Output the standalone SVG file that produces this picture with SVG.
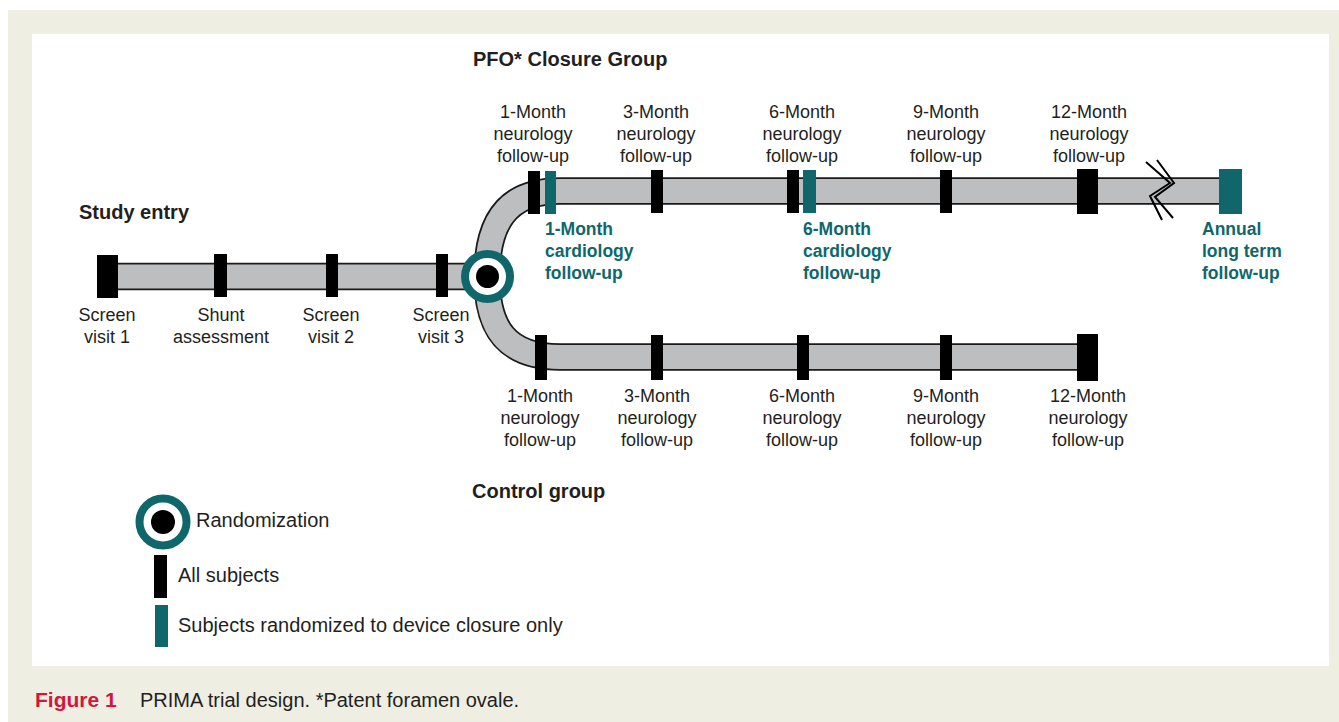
<svg xmlns="http://www.w3.org/2000/svg" width="1339" height="722" viewBox="0 0 1339 722">
<style>
.t{font-family:"Liberation Sans",Arial,sans-serif;fill:#231f20}
.lbl{font-size:18px;text-anchor:middle}
.hd{font-size:20px;font-weight:bold}
.cd{font-family:"Liberation Sans",Arial,sans-serif;font-size:17.5px;font-weight:bold;fill:#0f676b}
.lg{font-size:20px}
.blk{fill:#000}
.teal{fill:#0f676b}
.po{fill:none;stroke:#1a1a1a;stroke-width:27.5}
.pi{fill:none;stroke:#bdbec0;stroke-width:24}
.brk{fill:none;stroke:#000;stroke-width:2}
</style>
<rect x="8" y="10" width="1331" height="712" fill="#efeee3"/>
<rect x="32" y="34" width="1297" height="632" fill="#fff"/>

<g id="connectors">
  <path class="po" d="M108 276.5 L487 276.5"/>
  <path class="po" d="M487 276.5 C487 225 505 191 560 191 L1230 191"/>
  <path class="po" d="M487 276.5 C487 327 505 357 560 357 L1088 357"/>
  <path class="pi" d="M108 276.5 L487 276.5"/>
  <path class="pi" d="M487 276.5 C487 225 505 191 560 191 L1230 191"/>
  <path class="pi" d="M487 276.5 C487 327 505 357 560 357 L1088 357"/>
  <path class="brk" d="M1146 162 L1170 183 L1150 196 L1162 220"/>
  <path class="brk" d="M1157 160 L1174 183 L1155 197 L1173 218"/>
</g>

<g id="headings">
  <text class="t hd" x="79" y="219">Study entry</text>
  <text class="t hd" x="473" y="66">PFO* Closure Group</text>
  <text class="t hd" x="472" y="498">Control group</text>
</g>

<g id="screen-visit-1">
  <rect class="blk" x="97" y="255" width="21" height="43"/>
  <text class="t lbl" x="107" y="321">Screen</text>
  <text class="t lbl" x="107" y="343">visit 1</text>
</g>
<g id="shunt-assessment">
  <rect class="blk" x="214" y="254" width="13" height="43"/>
  <text class="t lbl" x="221" y="321">Shunt</text>
  <text class="t lbl" x="221" y="343">assessment</text>
</g>
<g id="screen-visit-2">
  <rect class="blk" x="326" y="254" width="12" height="43"/>
  <text class="t lbl" x="331" y="321">Screen</text>
  <text class="t lbl" x="331" y="343">visit 2</text>
</g>
<g id="screen-visit-3">
  <rect class="blk" x="436" y="254" width="12" height="43"/>
  <text class="t lbl" x="441" y="321">Screen</text>
  <text class="t lbl" x="441" y="343">visit 3</text>
</g>

<g id="randomization">
  <circle cx="487.5" cy="276.5" r="22.5" fill="#fff" stroke="#0f676b" stroke-width="8"/>
  <circle cx="487.5" cy="276.5" r="11.5" fill="#000"/>
</g>

<g id="pfo-1m-neuro">
  <rect class="blk" x="528" y="171" width="12" height="43"/>
  <text class="t lbl" x="533" y="118">1-Month</text>
  <text class="t lbl" x="533" y="140">neurology</text>
  <text class="t lbl" x="533" y="162">follow-up</text>
</g>
<g id="pfo-1m-cardio">
  <rect class="teal" x="545" y="171" width="11" height="43"/>
  <text class="cd" x="545" y="235">1-Month</text>
  <text class="cd" x="545" y="257">cardiology</text>
  <text class="cd" x="545" y="279">follow-up</text>
</g>
<g id="pfo-3m-neuro">
  <rect class="blk" x="651" y="170" width="12" height="43"/>
  <text class="t lbl" x="656" y="118">3-Month</text>
  <text class="t lbl" x="656" y="140">neurology</text>
  <text class="t lbl" x="656" y="162">follow-up</text>
</g>
<g id="pfo-6m-neuro">
  <rect class="blk" x="787" y="170" width="12" height="43"/>
  <text class="t lbl" x="802" y="118">6-Month</text>
  <text class="t lbl" x="802" y="140">neurology</text>
  <text class="t lbl" x="802" y="162">follow-up</text>
</g>
<g id="pfo-6m-cardio">
  <rect class="teal" x="803" y="170" width="13" height="43"/>
  <text class="cd" x="803" y="235">6-Month</text>
  <text class="cd" x="803" y="257">cardiology</text>
  <text class="cd" x="803" y="279">follow-up</text>
</g>
<g id="pfo-9m-neuro">
  <rect class="blk" x="940" y="170" width="12" height="43"/>
  <text class="t lbl" x="946" y="118">9-Month</text>
  <text class="t lbl" x="946" y="140">neurology</text>
  <text class="t lbl" x="946" y="162">follow-up</text>
</g>
<g id="pfo-12m-neuro">
  <rect class="blk" x="1077" y="169" width="21" height="45"/>
  <text class="t lbl" x="1089" y="118">12-Month</text>
  <text class="t lbl" x="1089" y="140">neurology</text>
  <text class="t lbl" x="1089" y="162">follow-up</text>
</g>
<g id="pfo-annual">
  <rect class="teal" x="1219" y="169" width="23" height="45"/>
  <text class="cd" x="1202" y="235">Annual</text>
  <text class="cd" x="1202" y="257">long term</text>
  <text class="cd" x="1202" y="279">follow-up</text>
</g>

<g id="ctl-1m-neuro">
  <rect class="blk" x="535" y="335" width="12" height="45"/>
  <text class="t lbl" x="540" y="402">1-Month</text>
  <text class="t lbl" x="540" y="424">neurology</text>
  <text class="t lbl" x="540" y="446">follow-up</text>
</g>
<g id="ctl-3m-neuro">
  <rect class="blk" x="651" y="335" width="12" height="45"/>
  <text class="t lbl" x="657" y="402">3-Month</text>
  <text class="t lbl" x="657" y="424">neurology</text>
  <text class="t lbl" x="657" y="446">follow-up</text>
</g>
<g id="ctl-6m-neuro">
  <rect class="blk" x="797" y="335" width="12" height="45"/>
  <text class="t lbl" x="802" y="402">6-Month</text>
  <text class="t lbl" x="802" y="424">neurology</text>
  <text class="t lbl" x="802" y="446">follow-up</text>
</g>
<g id="ctl-9m-neuro">
  <rect class="blk" x="940" y="335" width="12" height="45"/>
  <text class="t lbl" x="946" y="402">9-Month</text>
  <text class="t lbl" x="946" y="424">neurology</text>
  <text class="t lbl" x="946" y="446">follow-up</text>
</g>
<g id="ctl-12m-neuro">
  <rect class="blk" x="1077" y="334" width="21" height="47"/>
  <text class="t lbl" x="1088" y="402">12-Month</text>
  <text class="t lbl" x="1088" y="424">neurology</text>
  <text class="t lbl" x="1088" y="446">follow-up</text>
</g>

<g id="legend">
  <circle cx="163" cy="522" r="23.5" fill="#fff" stroke="#0f676b" stroke-width="8"/>
  <circle cx="163" cy="522" r="12" fill="#000"/>
  <text class="t lg" x="196" y="527">Randomization</text>
  <rect class="blk" x="154" y="555" width="13" height="43"/>
  <text class="t lg" x="178" y="582">All subjects</text>
  <rect class="teal" x="155" y="605" width="13" height="42"/>
  <text class="t lg" x="178" y="632">Subjects randomized to device closure only</text>
</g>

<g id="caption">
  <text x="35" y="707" font-family="Liberation Sans,Arial,sans-serif" font-size="21" font-weight="bold" fill="#d3163d">Figure 1</text>
  <text class="t" x="140" y="707" font-size="20">PRIMA trial design. *Patent foramen ovale.</text>
</g>
</svg>
